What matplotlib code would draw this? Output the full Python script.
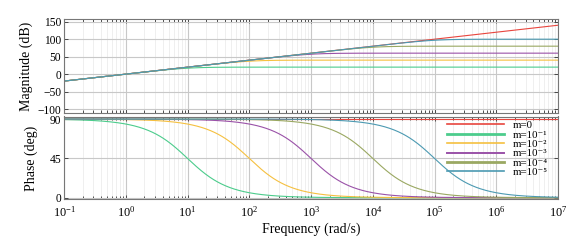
import numpy as np
import matplotlib
matplotlib.use("Agg")
import matplotlib.pyplot as plt
from matplotlib.ticker import LogLocator, NullFormatter

plt.rcParams['font.family'] = ['Liberation Serif', 'DejaVu Serif']
plt.rcParams['mathtext.fontset'] = 'stix'

# Data: parameter m of G(s) = s / (m s + 1)
m_values = [0, 1e-1, 1e-2, 1e-3, 1e-4, 1e-5]
labels = ['m=0', 'm=10⁻¹', 'm=10⁻²', 'm=10⁻³', 'm=10⁻⁴', 'm=10⁻⁵']
colors = ['#e8463e', '#4ccc8c', '#f5c040', '#9a52a8', '#9aa862', '#4c9ab2']
legend_widths = [1.2, 2.0, 1.2, 1.4, 2.0, 1.2]
freq_range = (1e-1, 1e7)
mag_ticks = [-100, -50, 0, 50, 100, 150]
phase_ticks = [0, 45, 90]

w = np.logspace(np.log10(freq_range[0]), np.log10(freq_range[1]), 800)

fig = plt.figure(figsize=(5.88, 2.46), dpi=100)
ax1 = fig.add_axes([64/588, 1 - 112.5/246, (558-64)/588, (112.5-19.3)/246])
ax2 = fig.add_axes([64/588, 1 - 199.3/246, (558-64)/588, (199.3-116.5)/246])

for m, lab, c in zip(m_values, labels, colors):
    H = (1j*w) / (m*1j*w + 1)
    mag = 20*np.log10(np.abs(H))
    ph = np.degrees(np.angle(H))
    ax1.plot(w, mag, color=c, lw=0.8)
    ax2.plot(w, ph, color=c, lw=0.8, label=lab)

for ax in (ax1, ax2):
    ax.set_xscale('log')
    ax.set_xlim(*freq_range)
    ax.xaxis.set_major_locator(LogLocator(base=10, numticks=20))
    ax.xaxis.set_minor_locator(LogLocator(base=10, subs=np.arange(2, 10), numticks=20))
    ax.xaxis.set_minor_formatter(NullFormatter())
    ax.grid(True, which='major', color='#c8c8c8', lw=0.8)
    ax.grid(True, which='minor', axis='x', color='#ececec', lw=0.6)
    ax.tick_params(which='both', direction='in', top=True, right=True, labelsize=8.3,
                   length=3, width=0.6, colors='#333333', labelcolor='black', pad=2)
    ax.tick_params(axis='x', pad=4, labelsize=8.8)
    ax.tick_params(which='minor', length=2)
    for s in ax.spines.values():
        s.set_color('#777777')
        s.set_linewidth(0.8)

ax1.set_ylim(-110, 157)
ax1.set_yticks(mag_ticks)
ax1.tick_params(labelbottom=False)
ax1.set_ylabel('Magnitude (dB)', fontsize=10, labelpad=3)

ax2.set_ylim(-1.8, 92.9)
ax2.set_yticks(phase_ticks)
ax2.set_ylabel('Phase (deg)', fontsize=10, labelpad=8)
ax2.set_xlabel('Frequency (rad/s)', fontsize=10, labelpad=2)

leg = ax2.legend(loc='upper left', bbox_to_anchor=(0.775, 0.95), frameon=False, fontsize=7.8,
                 handlelength=5.3, labelspacing=-0.02, handletextpad=0.8, borderpad=0,
                 borderaxespad=0)
for line, lw in zip(leg.get_lines(), legend_widths):
    line.set_linewidth(lw)

fig.savefig('out.png', dpi=100)
